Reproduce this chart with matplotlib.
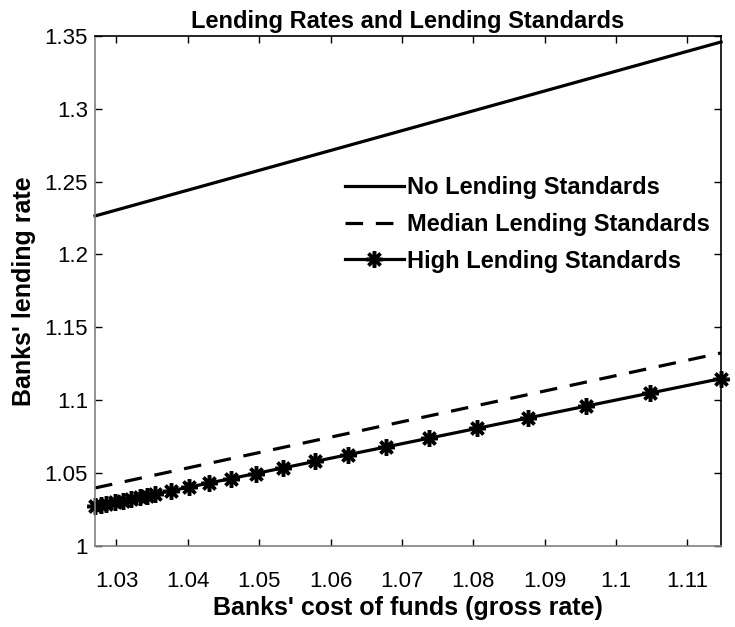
import matplotlib
matplotlib.use("Agg")
import matplotlib.pyplot as plt
from matplotlib.ticker import FormatStrFormatter

plt.rcParams['font.family'] = ['Liberation Sans', 'DejaVu Sans']

# Banks' cost of funds (gross rate) at the computed grid points
cost_of_funds = [1.0270, 1.0278, 1.0286, 1.0298, 1.0309, 1.0320, 1.0333, 1.0343,
                 1.0354, 1.0376, 1.0401, 1.0429, 1.0460, 1.0495, 1.0533, 1.0578,
                 1.0624, 1.0678, 1.0738, 1.0805, 1.0877, 1.0958, 1.1048, 1.1147]
# Lending rate under high lending standards
high_rate = [1.0270, 1.0278, 1.0286, 1.0298, 1.0309, 1.0320, 1.0333, 1.0343,
             1.0354, 1.0376, 1.0401, 1.0429, 1.0460, 1.0495, 1.0533, 1.0578,
             1.0624, 1.0678, 1.0738, 1.0805, 1.0877, 1.0958, 1.1048, 1.1147]

# Straight-line schedules: end points of the cost-of-funds range
range_x = [1.0270, 1.1147]
no_std_rate = [1.2264, 1.3459]
median_std_rate = [1.0396, 1.1323]

labels = ['No Lending Standards', 'Median Lending Standards', 'High Lending Standards']
x_ticks = [1.03, 1.04, 1.05, 1.06, 1.07, 1.08, 1.09, 1.10, 1.11]
y_ticks = [1.00, 1.05, 1.10, 1.15, 1.20, 1.25, 1.30, 1.35]

fig = plt.figure(figsize=(7.35, 6.27), dpi=100)
ax = fig.add_axes([0.1293, 0.1298, 0.981 - 0.1293, 0.9426 - 0.1298])

ax.plot(range_x, no_std_rate, color='black', lw=2.3, label=labels[0], clip_on=False)
ax.plot(range_x, median_std_rate, color='black', lw=2.3, ls=(0, (5.5, 4.0)),
        label=labels[1], clip_on=False)
ax.plot(cost_of_funds, high_rate, color='black', lw=2.3, marker=(8, 2, 0),
        markersize=12, markeredgewidth=2.5, label=labels[2], clip_on=False)

ax.set_xlim(1.0270, 1.1147)
ax.set_ylim(1.0, 1.35)
ax.set_xticks(x_ticks)
ax.set_yticks(y_ticks)
ax.xaxis.set_major_formatter(FormatStrFormatter('%g'))
ax.yaxis.set_major_formatter(FormatStrFormatter('%g'))
ax.tick_params(direction='in', length=5, width=1, top=True, right=True,
               labelsize=16, colors='black')
ax.tick_params(axis='y', pad=5)
ax.tick_params(axis='x', pad=18)

for side in ('left', 'bottom'):
    ax.spines[side].set_color('#808080')
for side in ('top', 'right'):
    ax.spines[side].set_color('black')
for sp in ax.spines.values():
    sp.set_linewidth(1.2)

ax.set_title('Lending Rates and Lending Standards', fontsize=17, fontweight='bold', pad=6)
ax.set_xlabel("Banks' cost of funds (gross rate)", fontsize=18, fontweight='bold', labelpad=3)
ax.set_ylabel("Banks' lending rate", fontsize=18, fontweight='bold', labelpad=6)

leg = ax.legend(loc='upper left', bbox_to_anchor=(0.399, 0.725), frameon=False,
                fontsize=17, handlelength=2.5, handletextpad=0.12, labelspacing=0.58,
                borderaxespad=0, borderpad=0)
for t in leg.get_texts():
    t.set_fontweight('bold')

fig.savefig('out.png', dpi=100)
